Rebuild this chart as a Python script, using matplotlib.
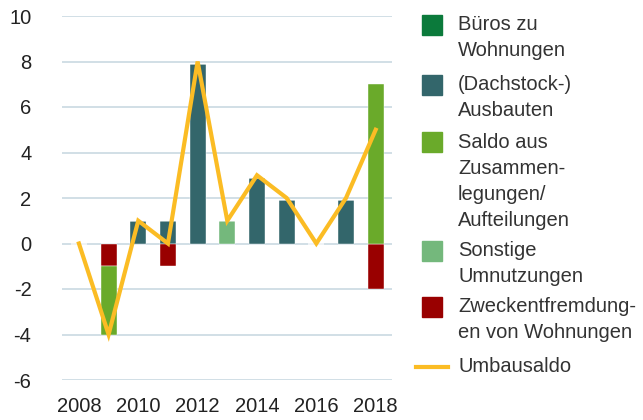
import matplotlib
matplotlib.use("Agg")
import matplotlib.pyplot as plt
import numpy as np
from matplotlib.patches import Rectangle
from matplotlib.lines import Line2D

years = [2008, 2009, 2010, 2011, 2012, 2013, 2014, 2015, 2016, 2017, 2018]
bueros = [0, 0, 0, 0, 0, 0, 0, 0, 0, 0, 0]
dachstock = [0, 0, 1, 1, 7.9, 0, 2.9, 1.9, 0, 1.9, 0]
saldo = [0, -3, 0, 0, 0, 0, 0, 0, 0, 0, 7]
sonstige = [0, 0, 0, 0, 0, 1, 0, 0, 0, 0, 0]
zweck = [0, -1, 0, -1, 0, 0, 0, 0, 0, 0, -2]
umbausaldo = [0, -4, 1, 0, 8, 1, 3, 2, 0, 2, 5]

labels = ["Büros zu\nWohnungen", "(Dachstock-)\nAusbauten",
          "Saldo aus\nZusammen-\nlegungen/\nAufteilungen",
          "Sonstige\nUmnutzungen", "Zweckentfremdung-\nen von Wohnungen",
          "Umbausaldo"]
colors = ["#0b7a3b", "#33666b", "#6aaa2a", "#74b87c", "#990000", "#fbbc24"]

plt.rcParams['font.family'] = ['Liberation Sans', 'DejaVu Sans']
plt.rcParams['axes.unicode_minus'] = False
FS = 14.5
W, H = 643, 420
fig = plt.figure(figsize=(W / 100, H / 100), dpi=100)
ax = fig.add_axes([62 / W, 1 - 380 / H, 330 / W, 364 / H])

series = [bueros, dachstock, saldo, sonstige, zweck]
x = np.array(years)
pos_base = np.zeros(len(years))
neg_base = np.zeros(len(years))
order = [0, 1, 3, 4, 2]
for i in order:
    vals = np.array(series[i], dtype=float)
    base = np.where(vals >= 0, pos_base, neg_base)
    ax.bar(x, vals, bottom=base, width=0.54, color=colors[i], zorder=2,
           edgecolor='white', linewidth=0.3)
    pos_base += np.where(vals > 0, vals, 0)
    neg_base += np.where(vals < 0, vals, 0)

ax.plot(x, umbausaldo, color=colors[5], lw=3, zorder=3, solid_joinstyle='miter')

ax.set_xlim(2007.43, 2018.55)
ax.set_ylim(-6, 10)
ax.set_yticks(range(-6, 11, 2))
ax.set_xticks(range(2008, 2019, 2))
ax.grid(axis='y', color='#c9d9e2', lw=1.2, zorder=0)
ax.grid(axis='x', visible=False)
for s in ax.spines.values():
    s.set_visible(False)
ax.tick_params(axis='y', length=0, pad=22, labelsize=FS, labelcolor='#222222')
ax.tick_params(axis='x', length=0, pad=12, labelsize=FS, labelcolor='#222222')

entries = [(25, 2), (85, 2), (142, 4), (251, 2), (307, 2), (367, 1)]
for k, (yc, nl) in enumerate(entries):
    if k < 5:
        fig.patches.append(Rectangle((422 / W, 1 - (yc + 10) / H), 20 / W, 20 / H,
                                     transform=fig.transFigure, color=colors[k]))
    else:
        fig.lines.append(Line2D([416 / W, 448 / W], [1 - yc / H, 1 - yc / H],
                                transform=fig.transFigure, color=colors[5], lw=3))
    for j, line in enumerate(labels[k].split("\n")):
        fig.text(458 / W, 1 - (yc + j * 26) / H, line, fontsize=FS,
                 color='#333333', va='center', ha='left')

fig.savefig("out.png", dpi=100)
